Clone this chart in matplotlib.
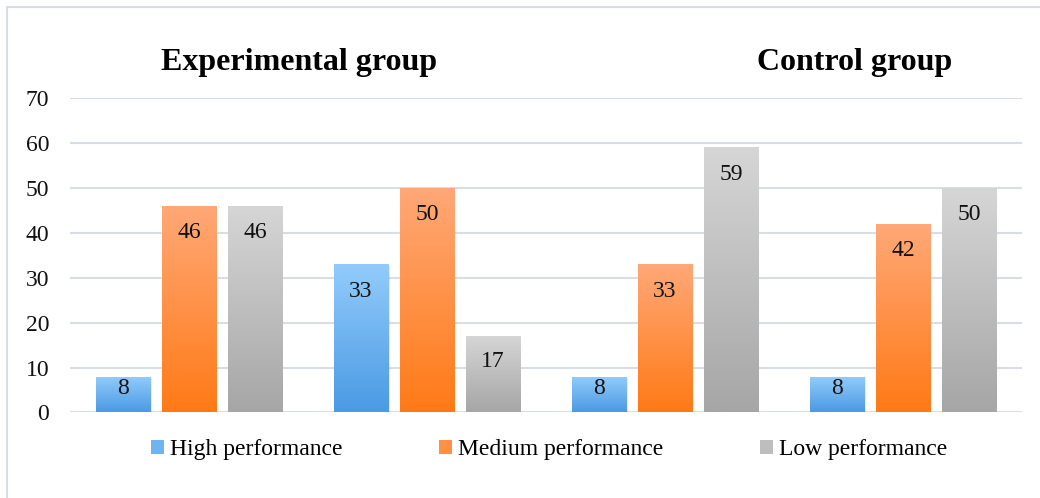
import numpy as np
import matplotlib
matplotlib.use("Agg")
import matplotlib.pyplot as plt
from matplotlib.colors import LinearSegmentedColormap
from matplotlib.patches import Rectangle

# Chart data
series_names = ["High performance", "Medium performance", "Low performance"]
high_values = [8, 33, 8, 8]
medium_values = [46, 50, 33, 42]
low_values = [46, 17, 59, 50]
y_ticks = [0, 10, 20, 30, 40, 50, 60, 70]

# Gradient colours (top, bottom) per series
gradients = [("#93CCFB", "#4A9AE4"), ("#FFA878", "#FF7A16"), ("#D6D6D6", "#A6A6A6")]

plt.rcParams['font.family'] = ['Liberation Serif', 'DejaVu Serif']

fig = plt.figure(figsize=(10.4, 4.98), dpi=100)
ax = fig.add_axes([0.0673, 0.1717, 0.9154, 0.6315])

# light frame around the chart
fig.patches.append(Rectangle((7 / 1040, -0.05), 1.1, 1 - 7 / 498 + 0.05,
                             transform=fig.transFigure, fill=False,
                             edgecolor="#D9DEE4", linewidth=1.5))

x = np.arange(len(high_values))
width = 0.227
offset = 0.277
all_values = [high_values, medium_values, low_values]

grad = np.linspace(0, 1, 256).reshape(-1, 1)
for i, (vals, (top, bottom)) in enumerate(zip(all_values, gradients)):
    bars = ax.bar(x + (i - 1) * offset, vals, width, color="none", zorder=3)
    cmap = LinearSegmentedColormap.from_list(f"g{i}", [bottom, top])
    for bar, v in zip(bars, vals):
        x0, y0 = bar.get_x(), bar.get_y()
        w, h = bar.get_width(), bar.get_height()
        # soft shadow
        ax.add_patch(Rectangle((x0 + 0.006, y0), w, h - 0.3, facecolor="#000000",
                               alpha=0.08, linewidth=0, zorder=2.5))
        im = ax.imshow(grad, extent=(x0, x0 + w, y0, y0 + h), origin="lower",
                       cmap=cmap, aspect="auto", zorder=3)
        im.set_clip_path(bar)
        ax.text(x0 + w / 2, v - min(6.0, v / 3), str(v), ha="center", va="center",
                fontsize=17, color="#111111", zorder=4)

ax.set_xlim(-0.5, 3.5)
ax.set_ylim(0, 70)
ax.set_yticks(y_ticks)
ax.set_xticks([])
ax.tick_params(axis="y", length=0, pad=15, labelsize=17, labelcolor="#111111")
ax.yaxis.grid(True, color="#D9DEE4", linewidth=1.5, zorder=0)
ax.set_axisbelow(True)
for s in ax.spines.values():
    s.set_visible(False)

# group titles
fig.text(0.2875, 0.8735, "Experimental group", ha="center", va="center",
         fontsize=23, fontweight="bold")
fig.text(0.822, 0.8735, "Control group", ha="center", va="center",
         fontsize=23, fontweight="bold")

handles = [Rectangle((0, 0), 1, 1, facecolor=LinearSegmentedColormap.from_list("h", [b, t])(0.5))
           for t, b in gradients]
fig.legend(handles, series_names, loc="center", bbox_to_anchor=(0.528, 0.0964),
           ncol=3, frameon=False, fontsize=17, handlelength=0.55, handleheight=0.55,
           handletextpad=0.25, columnspacing=4.1)

fig.savefig("out.png", dpi=100)
